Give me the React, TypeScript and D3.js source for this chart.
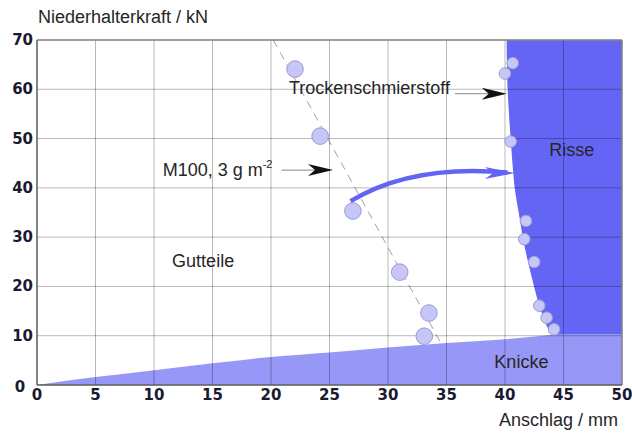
import React from "react";
import * as d3 from "d3";

const W = 632;
const H = 433;
const margin = { left: 37, right: 10, top: 40, bottom: 48 };

const xTicks = [0, 5, 10, 15, 20, 25, 30, 35, 40, 45, 50];
const yTicks = [0, 10, 20, 30, 40, 50, 60, 70];

// M100, 3 g m-2 test points
const m100X = [22.05, 24.2, 27.0, 31.0, 33.5, 33.1];
const m100Y = [64.1, 50.5, 35.3, 22.9, 14.6, 9.9];

// Trockenschmierstoff test points
const dryX = [40.66, 40.0, 40.49, 41.79, 41.65, 42.5, 42.93, 43.56, 44.19];
const dryY = [65.3, 63.2, 49.4, 33.3, 29.6, 24.95, 16.1, 13.65, 11.3];

// Boundary of "Risse" region (x at given force)
const risseBX = [40.14, 40.23, 40.49, 40.71, 40.85, 41.28, 41.56, 41.99, 42.56, 43.05, 43.85, 44.4];
const risseBY = [70, 59.85, 49.7, 42.95, 39.6, 33.5, 29.4, 24.75, 19.3, 15.2, 10.9, 10.24];

// Boundary of "Knicke" region
const knickX = [0, 5, 10, 15, 20, 25, 30, 35, 40, 44.4, 50];
const knickY = [0, 1.6, 3.0, 4.4, 5.7, 6.6, 7.6, 8.5, 9.3, 10.24, 10.24];

// dashed trend line for M100
const trendX = [20.2, 34.5];
const trendY = [70, 8.6];

export default function App() {
  const x = d3.scaleLinear().domain([0, 50]).range([margin.left, W - margin.right]);
  const y = d3.scaleLinear().domain([0, 70]).range([H - margin.bottom, margin.top]);

  const x0 = x(0), x1 = x(50), y0 = y(0), y1 = y(70);

  // Knicke polygon
  const knickPts: [number, number][] = knickX.slice(0, 10).map((v, i) => [x(v), y(knickY[i])]);
  const knickPath =
    d3.line().curve(d3.curveMonotoneX)(knickPts)! +
    `L${x(50)},${y(knickY[10])}L${x(50)},${y(0)}L${x(0)},${y(0)}Z`;

  // Risse polygon
  const rPts: [number, number][] = risseBX.map((v, i) => [x(v), y(risseBY[i])]);
  const risseCurve = d3.line().curve(d3.curveCatmullRom)(rPts)!;
  const rissePath = risseCurve + `L${x(50)},${y(10.24)}L${x(50)},${y(70)}Z`;

  // Blue curved arrow (data coords)
  const bs = [x(26.8), y(37.3)];
  const bc1 = [x(30.5), y(42.6)];
  const bc2 = [x(35), y(44.2)];
  const be = [x(40.2), y(43.1)];
  const blueTip = [x(40.85), y(43.0)];
  const bluePath = `M${bs[0]},${bs[1]}C${bc1[0]},${bc1[1]} ${bc2[0]},${bc2[1]} ${be[0]},${be[1]}`;

  const tickColor = "#1a1a30";
  const textColor = "#262626";
  const font = "'Liberation Sans', Arial, sans-serif";
  const tickFont = "'DejaVu Sans', Verdana, sans-serif";

  const stealth = (tx: number, ty: number, len: number, half: number) =>
    `M${tx},${ty}L${tx - len},${ty - half}L${tx - len * 0.72},${ty}L${tx - len},${ty + half}Z`;

  const trocTip = [x(40.15), y(59.1)];
  const trocStart = [x(35.7), y(59.1)];
  const m100Tip = [x(25.3), y(43.6)];
  const m100Start = [x(20.9), y(43.6)];

  return (
    <svg
      width={W}
      height={H}
      style={{ position: "absolute", left: 0, top: 0, background: "#fff" }}
      fontFamily={font}
    >
      <rect x={0} y={0} width={W} height={H} fill="#fff" />
      {/* dashed trend */}
      <line
        x1={x(trendX[0])}
        y1={y(trendY[0])}
        x2={x(trendX[1])}
        y2={y(trendY[1])}
        stroke="#a0a0a0"
        strokeWidth={1}
        strokeDasharray="8,6"
      />
      {/* regions */}
      <path d={knickPath} fill="#9797f7" />
      <path d={rissePath} fill="#6565f5" />

      {/* grid */}
      {xTicks.map((t) => (
        <line key={"gx" + t} x1={x(t)} x2={x(t)} y1={y0} y2={y1} stroke="rgba(0,0,0,0.28)" strokeWidth={1} />
      ))}
      {yTicks.map((t) => (
        <line key={"gy" + t} x1={x0} x2={x1} y1={y(t)} y2={y(t)} stroke="rgba(0,0,0,0.28)" strokeWidth={1} />
      ))}
      {/* frame */}
      <line x1={x0} x2={x1} y1={y1} y2={y1} stroke="#8a8a8a" strokeWidth={1.5} />
      <line x1={x1} x2={x1} y1={y1} y2={y0} stroke="#8a8a8a" strokeWidth={1.5} />
      <line x1={x0} x2={x0} y1={y1} y2={y0} stroke="#666" strokeWidth={1.5} />
      <line x1={x0} x2={x1} y1={y0} y2={y0} stroke="#666" strokeWidth={1.5} />

      {/* points */}
      {m100X.map((v, i) => (
        <circle key={"m" + i} cx={x(v)} cy={y(m100Y[i])} r={8.3} fill="#c6c6f7" stroke="#9a9ad6" strokeWidth={1} />
      ))}
      {dryX.map((v, i) => (
        <circle key={"d" + i} cx={x(v)} cy={y(dryY[i])} r={5.8} fill="#c6c6f7" stroke="#9a9ad6" strokeWidth={1} />
      ))}

      {/* blue curved arrow */}
      <path d={bluePath} fill="none" stroke="#6464f4" strokeWidth={4.5} />
      <path d={stealth(blueTip[0], blueTip[1], 30, 6)} fill="#6464f4" />

      {/* annotation arrows */}
      <line x1={trocStart[0]} y1={trocStart[1]} x2={trocTip[0] - 10} y2={trocTip[1]} stroke="#888" strokeWidth={1} />
      <path d={stealth(trocTip[0], trocTip[1], 25, 6)} fill="#111" />
      <line x1={m100Start[0]} y1={m100Start[1]} x2={m100Tip[0] - 10} y2={m100Tip[1]} stroke="#888" strokeWidth={1} />
      <path d={stealth(m100Tip[0], m100Tip[1], 25, 6)} fill="#111" />

      {/* labels */}
      <text x={x(35.3)} y={y(60.3)} fontSize={18} fill={textColor} textAnchor="end" dominantBaseline="central">
        Trockenschmierstoff
      </text>
      <text x={x(10.74)} y={y(43.6)} fontSize={18} fill={textColor} dominantBaseline="central">
        M100, 3 g m
        <tspan fontSize={11} dy={-6}>-2</tspan>
      </text>
      <text x={x(14.2)} y={y(25.2)} fontSize={18} fill={textColor} textAnchor="middle" dominantBaseline="central">
        Gutteile
      </text>
      <text x={x(45.7)} y={y(47.7)} fontSize={18} fill={textColor} textAnchor="middle" dominantBaseline="central">
        Risse
      </text>
      <text x={x(41.4)} y={y(4.6)} fontSize={18} fill={textColor} textAnchor="middle" dominantBaseline="central">
        Knicke
      </text>

      {/* tick labels */}
      {yTicks.map((t) =>
        t === 0 ? (
          <text key={"yl" + t} x={20} y={y(t) + 1.5} fontFamily={tickFont} fontSize={15} fontWeight="bold" fill={tickColor} textAnchor="middle" dominantBaseline="central">
            {t}
          </text>
        ) : (
          <text key={"yl" + t} x={x0 - 4} y={y(t)} fontFamily={tickFont} fontSize={15} fontWeight="bold" fill={tickColor} textAnchor="end" dominantBaseline="central">
            {t}
          </text>
        )
      )}
      {xTicks.map((t) => (
        <text key={"xl" + t} x={x(t)} y={y0 + 10} fontFamily={tickFont} fontSize={15} fontWeight="bold" fill={tickColor} textAnchor="middle" dominantBaseline="central">
          {t}
        </text>
      ))}

      {/* axis titles */}
      <text x={38} y={17} fontSize={18} fill={textColor} dominantBaseline="central">
        Niederhalterkraft / kN
      </text>
      <text x={618} y={420} fontSize={18} fill={textColor} textAnchor="end" dominantBaseline="central">
        Anschlag / mm
      </text>
    </svg>
  );
}
